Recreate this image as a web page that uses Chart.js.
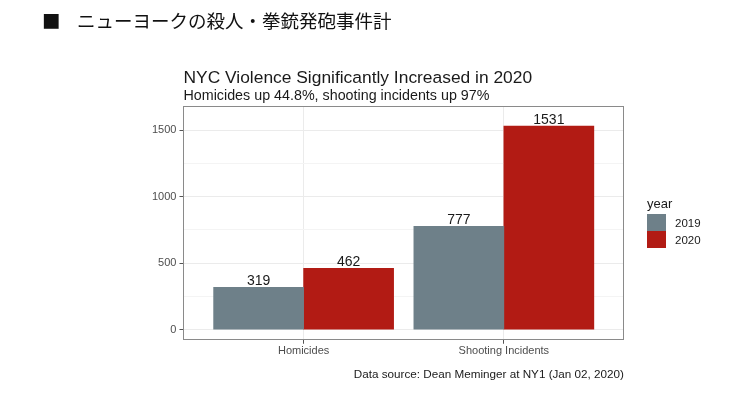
<!DOCTYPE html>
<html>
<head>
<meta charset="utf-8">
<script src="https://cdn.jsdelivr.net/npm/chart.js@4.4.1/dist/chart.umd.min.js"></script>
<style>
  body { margin: 0; background: #fff; }
  #wrap { position: relative; width: 730px; height: 397px; overflow: hidden; }
  canvas { position: absolute; left: 0; top: 0; }
  .head { position: absolute; top: 11px; font-family: "Noto Sans CJK JP", sans-serif; font-size: 18.5px; line-height: 18.5px; color: #111; white-space: nowrap; }
</style>
</head>
<body>
<div id="wrap">
  <canvas id="myChart" width="730" height="397"></canvas>
  <div class="head" style="left:42px">■</div>
  <div class="head" style="left:77px">ニューヨークの殺人・拳銃発砲事件計</div>
</div>
<script>
const categories = ['Homicides', 'Shooting Incidents'];
const years = ['2019', '2020'];
const values2019 = [319, 777];
const values2020 = [462, 1531];
const yTicks = [0, 250, 500, 750, 1000, 1250, 1500];
const yLabels = ['0', '', '500', '', '1000', '', '1500'];

const barColors = ['#6E8089', '#B21B14'];
const FONT = '"Liberation Sans", Arial, sans-serif';

// bar value labels on top of each bar
const valueLabels = {
    id: 'valueLabels',
    afterDatasetsDraw(chart) {
        const ctx = chart.ctx;
        ctx.save();
        ctx.font = '14px ' + FONT;
        ctx.fillStyle = '#1a1a1a';
        ctx.textAlign = 'center';
        ctx.textBaseline = 'alphabetic';
        chart.data.datasets.forEach((ds, i) => {
            chart.getDatasetMeta(i).data.forEach((bar, j) => {
                ctx.fillText(String(ds.data[j].y), bar.x, bar.y - 2);
            });
        });
        ctx.restore();
    }
};

// full panel border like ggplot's theme_bw
const panelBorder = {
    id: 'panelBorder',
    afterDraw(chart) {
        const { ctx, chartArea: a } = chart;
        ctx.save();
        ctx.strokeStyle = '#8a8a8a';
        ctx.lineWidth = 1;
        ctx.strokeRect(Math.round(a.left) + 0.5, Math.round(a.top) + 0.5,
            Math.round(a.right - a.left) - 1, Math.round(a.bottom - a.top) - 1);
        ctx.restore();
    }
};

// legend on the right, keys stacked with no gap
const sideLegend = {
    id: 'sideLegend',
    afterDraw(chart) {
        const { ctx, chartArea: a } = chart;
        const x0 = a.right + 23;
        const keyH = 17, keyW = 19;
        const top = (a.top + a.bottom) / 2 - 9;
        ctx.save();
        ctx.font = '13px ' + FONT;
        ctx.fillStyle = '#1a1a1a';
        ctx.textBaseline = 'middle';
        ctx.fillText('year', x0, top - 10);
        chart.data.datasets.forEach((ds, i) => {
            const y = top + i * keyH;
            ctx.fillStyle = ds.backgroundColor;
            ctx.fillRect(x0, y, keyW, keyH);
            ctx.fillStyle = '#1a1a1a';
            ctx.font = '11.5px ' + FONT;
            ctx.fillText(ds.label, x0 + keyW + 9, y + keyH / 2 + 1);
        });
        ctx.restore();
    }
};

const toPoints = vals => vals.map((v, i) => ({ x: i + 1, y: v }));

new Chart(document.getElementById('myChart'), {
    type: 'bar',
    data: {
        datasets: [
            { label: years[0], data: toPoints(values2019), backgroundColor: barColors[0], barThickness: 90 },
            { label: years[1], data: toPoints(values2020), backgroundColor: barColors[1], barThickness: 90 }
        ]
    },
    options: {
        responsive: false,
        animation: false,
        layout: { padding: { left: 149, right: 106, top: 0, bottom: 0 } },
        plugins: {
            legend: { display: false },
            tooltip: { enabled: false },
            title: {
                display: true,
                text: 'NYC Violence Significantly Increased in 2020',
                align: 'start',
                fullSize: false,
                color: '#1a1a1a',
                font: { family: FONT, size: 17.4, weight: 'normal', lineHeight: 1.1 },
                padding: { top: 68.5, bottom: 0 }
            },
            subtitle: {
                display: true,
                text: 'Homicides up 44.8%, shooting incidents up 97%',
                align: 'start',
                fullSize: false,
                color: '#1a1a1a',
                font: { family: FONT, size: 14.3, lineHeight: 1.0 },
                padding: { top: 1, bottom: 3.3 }
            }
        },
        scales: {
            x: {
                type: 'linear',
                min: 0.4,
                max: 2.6,
                offset: false,
                afterBuildTicks: s => { s.ticks = categories.map((c, i) => ({ value: i + 1 })); },
                ticks: {
                    callback: v => categories[v - 1],
                    color: '#4D4D4D',
                    font: { family: FONT, size: 11 },
                    padding: 1,
                    maxRotation: 0
                },
                grid: { offset: false, color: '#EBEBEB', tickColor: '#555', tickLength: 4 },
                border: { display: false },
                title: {
                    display: true,
                    text: 'Data source: Dean Meminger at NY1 (Jan 02, 2020)',
                    align: 'end',
                    color: '#1a1a1a',
                    font: { family: FONT, size: 11.7 },
                    padding: { top: 9, bottom: 15 }
                }
            },
            y: {
                min: -76,
                max: 1680,
                afterBuildTicks: s => { s.ticks = yTicks.map(v => ({ value: v })); },
                ticks: {
                    callback: (v, i) => yLabels[i],
                    color: '#4D4D4D',
                    font: { family: FONT, size: 11 },
                    padding: 3
                },
                grid: {
                    color: c => (c.tick && c.tick.value % 500 === 0) ? '#EBEBEB' : '#F4F4F4',
                    tickColor: c => (c.tick && c.tick.value % 500 === 0) ? '#555' : 'rgba(0,0,0,0)',
                    tickLength: 4
                },
                border: { display: false }
            }
        }
    },
    plugins: [valueLabels, panelBorder, sideLegend]
});
</script>
</body>
</html>
